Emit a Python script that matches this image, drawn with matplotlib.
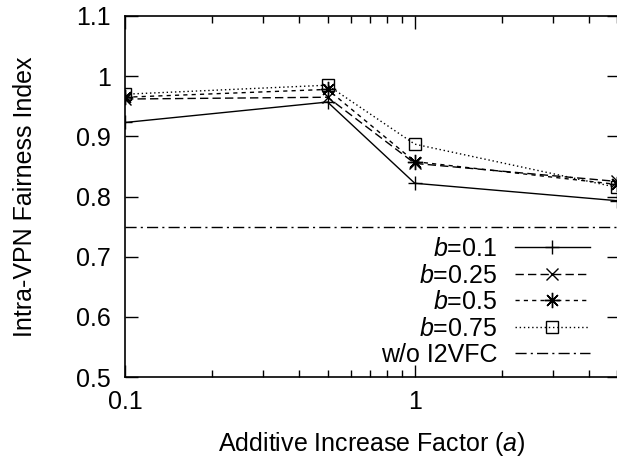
import numpy as np
import matplotlib.pyplot as plt
from matplotlib.ticker import FixedLocator, FixedFormatter, NullFormatter, LogLocator

plt.rcParams['font.family'] = ['Liberation Sans', 'DejaVu Sans']
plt.rcParams['mathtext.fontset'] = 'custom'
plt.rcParams['mathtext.rm'] = 'Liberation Sans'
plt.rcParams['mathtext.it'] = 'Liberation Sans:italic'

# datos
a_vals = [0.1, 0.5, 1, 5]
b01 = [0.923, 0.957, 0.822, 0.793]
b025 = [0.962, 0.965, 0.855, 0.825]
b05 = [0.965, 0.978, 0.858, 0.820]
b075 = [0.970, 0.985, 0.887, 0.815]
baseline = 0.75

fig = plt.figure(figsize=(6.17, 4.57), dpi=100)
ax = fig.add_axes([0.2026, 0.175, 0.80, 0.79])

asterisk = (8, 2, 0)
ax.plot(a_vals, b01, color='black', lw=1, ls='-', marker='+', ms=10, mew=1,
        label='$b$=0.1')
ax.plot(a_vals, b025, color='black', lw=1, ls=(0, (6, 3)), marker='x', ms=8, mew=1,
        label='$b$=0.25')
ax.plot(a_vals, b05, color='black', lw=1, ls=(0, (3, 3)), marker=asterisk, ms=11, mew=1,
        label='$b$=0.5')
ax.plot(a_vals, b075, color='black', lw=1, ls=(0, (1, 2)), marker='s', ms=9, mew=1,
        mfc='none', label='$b$=0.75')
ax.axhline(baseline, color='black', lw=1, ls=(0, (8, 3, 1.5, 3)), label='w/o I2VFC')

ax.set_xscale('log')
ax.set_xlim(0.1, 5.05)
ax.set_ylim(0.5, 1.1)
ax.xaxis.set_major_locator(FixedLocator([0.1, 1]))
ax.xaxis.set_major_formatter(FixedFormatter(['0.1', '1']))
ax.xaxis.set_minor_locator(LogLocator(base=10, subs=np.arange(2, 10)))
ax.xaxis.set_minor_formatter(NullFormatter())
ax.set_yticks([0.5, 0.6, 0.7, 0.8, 0.9, 1.0, 1.1])
ax.set_yticklabels(['0.5', '0.6', '0.7', '0.8', '0.9', '1', '1.1'])

ax.tick_params(which='both', direction='in', top=True, right=True, labelsize=18, width=1)
ax.tick_params(which='major', length=9)
ax.tick_params(axis='x', which='major', pad=9)
ax.tick_params(axis='y', which='major', pad=10)
ax.tick_params(which='minor', length=5)
for s in ax.spines.values():
    s.set_linewidth(1.2)

ax.set_xlabel('Additive Increase Factor ($a$)', fontsize=18, labelpad=12)
ax.set_ylabel('Intra-VPN Fairness Index', fontsize=18, labelpad=28)

ax.legend(loc='lower right', bbox_to_anchor=(0.962, 0.0), frameon=False, fontsize=18,
          markerfirst=False, handlelength=3.0, labelspacing=0.1, handletextpad=0.7,
          borderaxespad=0.0)

fig.savefig('out.png', dpi=100)
